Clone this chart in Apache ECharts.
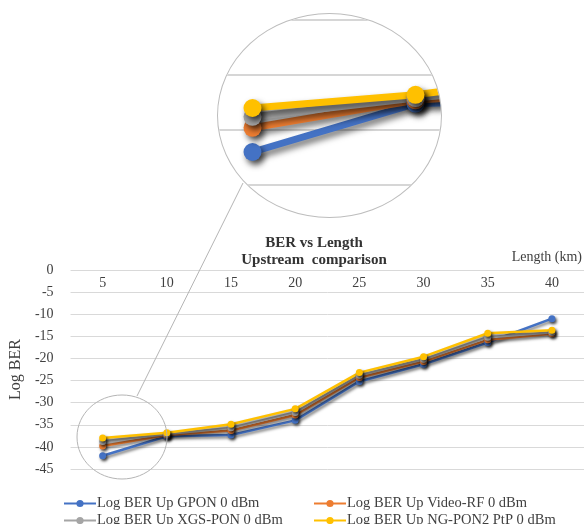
<!DOCTYPE html>
<html><head><meta charset="utf-8">
<script src="https://cdn.jsdelivr.net/npm/echarts@6/dist/echarts.min.js"></script>
<style>
html,body{margin:0;padding:0;background:#fff;}
#main{position:absolute;left:0;top:0;width:586px;height:524px;}
#lens{position:absolute;left:217px;top:13px;width:225px;height:205px;border-radius:50%;overflow:hidden;border:1px solid #bdbdbd;box-sizing:border-box;background:#fff;}
#inset{position:absolute;left:-47px;top:-1px;width:340px;height:240px;}
</style></head>
<body>
<div id="main"></div>
<div id="lens"><div id="inset"></div></div>
<script>
const categories = ['5','10','15','20','25','30','35','40'];
const gpon   = [-42.0, -37.6, -37.3, -34.0, -25.2, -21.3, -16.4, -11.0];
const video  = [-39.8, -37.3, -36.3, -32.8, -24.3, -20.7, -15.8, -14.4];
const xgs    = [-38.8, -37.1, -35.7, -32.2, -23.8, -20.2, -15.2, -14.1];
const ngpon2 = [-38.0, -36.8, -34.9, -31.4, -23.2, -19.6, -14.3, -13.6];
const seriesNames = ['Log BER Up GPON 0 dBm','Log BER Up Video-RF 0 dBm','Log BER Up XGS-PON 0 dBm','Log BER Up NG-PON2 PtP 0 dBm'];
const seriesData = [gpon, video, xgs, ngpon2];
const colors = ['#4472C4','#ED7D31','#A5A5A5','#FFC000'];
const FONT = 'Liberation Serif';

function mkSeries(lw, sym, shadow){
  return seriesData.map((d,i)=>({
    name: seriesNames[i], type:'line', data:d, symbol:'circle', symbolSize:sym,
    color: colors[i],
    lineStyle:{width:lw, color:colors[i], shadowColor:'rgba(0,0,0,0.55)', shadowBlur:shadow, shadowOffsetX:shadow/2, shadowOffsetY:shadow/1.5},
    itemStyle:{color:colors[i], shadowColor:'rgba(0,0,0,0.7)', shadowBlur:shadow, shadowOffsetX:shadow/2, shadowOffsetY:shadow/1.5},
    emphasis:{disabled:true}, animation:false
  }));
}

const legendPos = [[63,496],[313,496],[63,513],[313,513]];
const legends = seriesNames.map((n,i)=>({
  left:legendPos[i][0], top:legendPos[i][1], orient:'horizontal', padding:0,
  itemWidth:32, itemHeight:9, data:[n], selectedMode:false,
  textStyle:{fontFamily:FONT, fontSize:14.5, color:'#404040', padding:[0,0,0,-4]}
}));

const main = echarts.init(document.getElementById('main'), null, {renderer:'canvas'});
main.setOption({
  backgroundColor:'#fff',
  animation:false,
  title:{text:'BER vs Length', subtext:'Upstream  comparison', left:309, top:231, textAlign:'center', itemGap:2,
    textStyle:{fontFamily:FONT, fontSize:15, fontWeight:'bold', color:'#333'},
    subtextStyle:{fontFamily:FONT, fontSize:15, fontWeight:'bold', color:'#333'}},
  grid:{left:64, right:2, top:270, bottom:55},
  legend:legends,
  xAxis:{type:'category', data:categories, position:'top', boundaryGap:true,
    name:'Length (km)', nameLocation:'end', nameGap:0,
    nameTextStyle:{fontFamily:FONT, fontSize:14, color:'#404040', align:'right', verticalAlign:'bottom', padding:[0,2,6,0]},
    axisLine:{show:false}, axisTick:{show:false},
    axisLabel:{inside:true, fontFamily:FONT, fontSize:14, color:'#404040', margin:6}},
  yAxis:{type:'value', min:-45, max:0, interval:5,
    name:'Log BER', nameLocation:'middle', nameGap:42, nameRotate:90,
    nameTextStyle:{fontFamily:FONT, fontSize:16, color:'#404040'},
    axisLine:{show:false}, axisTick:{show:false},
    axisLabel:{fontFamily:FONT, fontSize:14, color:'#404040', margin:17},
    splitLine:{lineStyle:{color:'#d9d9d9', width:1}}},
  graphic:[
    {type:'ellipse', shape:{cx:122, cy:437, rx:45, ry:42}, style:{fill:'none', stroke:'#b5b5b5', lineWidth:1}, z:100},
    {type:'line', shape:{x1:137, y1:396, x2:243, y2:183}, style:{stroke:'#b5b5b5', lineWidth:1}, z:100}
  ],
  series: mkSeries(2.5, 7, 3)
});

const inset = echarts.init(document.getElementById('inset'), null, {renderer:'canvas'});
inset.setOption({
  animation:false,
  grid:{left:0, width:326, top:7, height:220},
  xAxis:{type:'category', data:categories, min:0, max:1, boundaryGap:true, show:false},
  yAxis:{type:'value', min:-50, max:-30, interval:5, axisLabel:{show:false}, axisLine:{show:false}, axisTick:{show:false},
    splitLine:{lineStyle:{color:'#d6d6d6', width:2}}},
  series: mkSeries(7, 18, 6)
});
</script>
</body></html>
